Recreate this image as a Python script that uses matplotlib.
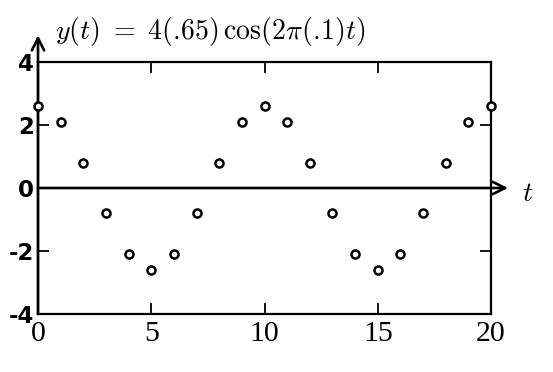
import matplotlib
matplotlib.use("Agg")
import matplotlib.pyplot as plt

t_vals = list(range(0, 21))
y_vals = [2.6, 2.1, 0.8, -0.8, -2.1, -2.6, -2.1, -0.8, 0.8, 2.1, 2.6,
          2.1, 0.8, -0.8, -2.1, -2.6, -2.1, -0.8, 0.8, 2.1, 2.6]
x_ticks = [0, 5, 10, 15, 20]
x_tick_labels = ["0", "5", "10", "15", "20"]
y_ticks = [-4, -2, 0, 2, 4]
y_tick_labels = ["-4", "-2", "0", "2", "4"]
title_text = r"$y(t)\ =\ 4(.\!65)\,\cos(2\pi(.\!1)t)$"
x_label = r"$t$"

plt.rcParams["mathtext.fontset"] = "cm"

fig = plt.figure(figsize=(5.53, 3.72), dpi=100)
ax = fig.add_axes([38/553, 1 - 314/372, (491-38)/553, (314-62)/372])
ax.set_xlim(0, 20)
ax.set_ylim(-4, 4)

ax.plot(t_vals, y_vals, linestyle="none", marker="o", markersize=5.8,
        markerfacecolor="white", markeredgecolor="black", markeredgewidth=1.8,
        clip_on=False, zorder=5)

for s in ax.spines.values():
    s.set_linewidth(1.6)

ax.set_xticks(x_ticks)
ax.set_xticklabels(x_tick_labels, family="Liberation Serif", fontsize=21.5)
ax.set_yticks(y_ticks)
ax.set_yticklabels(y_tick_labels, family="DejaVu Sans", fontweight="bold", fontsize=16.5)
ax.tick_params(axis="both", direction="in", length=8, width=1.3,
               top=True, right=True)
ax.tick_params(axis="x", pad=5)
ax.tick_params(axis="y", pad=3)

# zero line with arrow
ax.annotate("", xy=(20.75, 0), xytext=(0, 0), xycoords="data",
            arrowprops=dict(arrowstyle="->", lw=1.9, color="black",
                            mutation_scale=22, shrinkA=0, shrinkB=0),
            annotation_clip=False)
# vertical axis with arrow
ax.annotate("", xy=(0, 4.85), xytext=(0, -4), xycoords="data",
            arrowprops=dict(arrowstyle="->", lw=1.9, color="black",
                            mutation_scale=22, shrinkA=0, shrinkB=0),
            annotation_clip=False)

ax.text(21.6, -0.15, x_label, fontsize=20, ha="center", va="center")
fig.text(55/553, 1 - 31/372, title_text, fontsize=20, ha="left", va="center")

fig.savefig("out.png", dpi=100)
